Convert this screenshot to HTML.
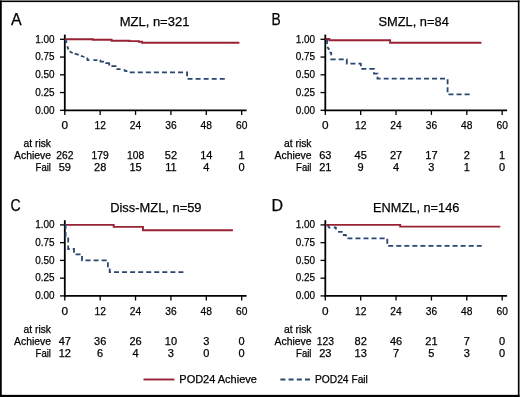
<!DOCTYPE html>
<html><head><meta charset="utf-8"><style>
html,body{margin:0;padding:0;background:#fff;overflow:hidden;}
svg{display:block;will-change:transform;}
text{font-family:"Liberation Sans", sans-serif;fill:#000;stroke:#000;stroke-width:0.25px;}
</style></head><body>
<svg width="520" height="397" viewBox="0 0 520 397">
<rect x="0" y="0" width="520" height="397" fill="#fff"/>
<line x1="64.80" y1="34.60" x2="64.80" y2="111.20" stroke="#000" stroke-width="1.8"/>
<line x1="63.90" y1="110.30" x2="246.60" y2="110.30" stroke="#000" stroke-width="1.8"/>
<line x1="60.00" y1="39.30" x2="64.80" y2="39.30" stroke="#000" stroke-width="1.3"/>
<text x="54.60" y="42.60" font-size="11.8" text-anchor="end" textLength="19.4" lengthAdjust="spacingAndGlyphs">1.00</text>
<line x1="60.00" y1="57.05" x2="64.80" y2="57.05" stroke="#000" stroke-width="1.3"/>
<text x="54.60" y="60.35" font-size="11.8" text-anchor="end" textLength="19.4" lengthAdjust="spacingAndGlyphs">0.75</text>
<line x1="60.00" y1="74.80" x2="64.80" y2="74.80" stroke="#000" stroke-width="1.3"/>
<text x="54.60" y="78.10" font-size="11.8" text-anchor="end" textLength="19.4" lengthAdjust="spacingAndGlyphs">0.50</text>
<line x1="60.00" y1="92.55" x2="64.80" y2="92.55" stroke="#000" stroke-width="1.3"/>
<text x="54.60" y="95.85" font-size="11.8" text-anchor="end" textLength="19.4" lengthAdjust="spacingAndGlyphs">0.25</text>
<line x1="60.00" y1="110.30" x2="64.80" y2="110.30" stroke="#000" stroke-width="1.3"/>
<text x="54.60" y="113.60" font-size="11.8" text-anchor="end" textLength="19.4" lengthAdjust="spacingAndGlyphs">0.00</text>
<line x1="64.80" y1="110.30" x2="64.80" y2="114.90" stroke="#000" stroke-width="1.3"/>
<text x="64.80" y="129.00" font-size="11.8" text-anchor="middle">0</text>
<line x1="100.18" y1="110.30" x2="100.18" y2="114.90" stroke="#000" stroke-width="1.3"/>
<text x="100.18" y="129.00" font-size="11.8" text-anchor="middle" textLength="11.4" lengthAdjust="spacingAndGlyphs">12</text>
<line x1="135.55" y1="110.30" x2="135.55" y2="114.90" stroke="#000" stroke-width="1.3"/>
<text x="135.55" y="129.00" font-size="11.8" text-anchor="middle" textLength="11.4" lengthAdjust="spacingAndGlyphs">24</text>
<line x1="170.93" y1="110.30" x2="170.93" y2="114.90" stroke="#000" stroke-width="1.3"/>
<text x="170.93" y="129.00" font-size="11.8" text-anchor="middle" textLength="11.4" lengthAdjust="spacingAndGlyphs">36</text>
<line x1="206.30" y1="110.30" x2="206.30" y2="114.90" stroke="#000" stroke-width="1.3"/>
<text x="206.30" y="129.00" font-size="11.8" text-anchor="middle" textLength="11.4" lengthAdjust="spacingAndGlyphs">48</text>
<line x1="241.68" y1="110.30" x2="241.68" y2="114.90" stroke="#000" stroke-width="1.3"/>
<text x="241.68" y="129.00" font-size="11.8" text-anchor="middle" textLength="11.4" lengthAdjust="spacingAndGlyphs">60</text>
<text x="51.00" y="146.50" font-size="11" text-anchor="end" textLength="27.5" lengthAdjust="spacingAndGlyphs">at risk</text>
<text x="51.00" y="159.10" font-size="11" text-anchor="end" textLength="37" lengthAdjust="spacingAndGlyphs">Achieve</text>
<text x="51.00" y="170.50" font-size="11" text-anchor="end" textLength="15.4" lengthAdjust="spacingAndGlyphs">Fail</text>
<text x="64.80" y="159.10" font-size="11" text-anchor="middle" textLength="17.2" lengthAdjust="spacingAndGlyphs">262</text>
<text x="64.80" y="170.50" font-size="11" text-anchor="middle">59</text>
<text x="100.18" y="159.10" font-size="11" text-anchor="middle" textLength="17.2" lengthAdjust="spacingAndGlyphs">179</text>
<text x="100.18" y="170.50" font-size="11" text-anchor="middle">28</text>
<text x="135.55" y="159.10" font-size="11" text-anchor="middle" textLength="17.2" lengthAdjust="spacingAndGlyphs">108</text>
<text x="135.55" y="170.50" font-size="11" text-anchor="middle">15</text>
<text x="170.93" y="159.10" font-size="11" text-anchor="middle">52</text>
<text x="170.93" y="170.50" font-size="11" text-anchor="middle">11</text>
<text x="206.30" y="159.10" font-size="11" text-anchor="middle">14</text>
<text x="206.30" y="170.50" font-size="11" text-anchor="middle">4</text>
<text x="241.68" y="159.10" font-size="11" text-anchor="middle">1</text>
<text x="241.68" y="170.50" font-size="11" text-anchor="middle">0</text>
<text x="11.00" y="25.40" font-size="16">A</text>
<text x="119.70" y="26.20" font-size="13.7" textLength="69.7" lengthAdjust="spacingAndGlyphs">MZL, n=321</text>
<path d="M64.80,39.20 L92.80,39.20 L92.80,39.80 L111.60,39.80 L111.60,40.80 L129.20,40.70 L129.20,41.10 L138.80,41.10 L138.80,41.80 L142.10,41.80 L142.10,42.70 L239.40,42.70" fill="none" stroke="#982233" stroke-width="1.9"/>
<path d="M127.20,72.30 L187.10,72.30 L187.10,78.90 L225.20,78.90" fill="none" stroke="#284670" stroke-width="1.8" stroke-dasharray="5.0 3.05" stroke-dashoffset="5.50"/>
<path d="M65.00,39.40 L65.90,41.00 L66.90,42.80 M67.20,46.30 L67.80,47.50 L68.30,49.40 M69.70,51.20 L71.00,52.20 L72.70,53.00 M74.70,53.70 L76.50,54.20 L78.70,54.90 M80.90,55.90 L83.00,56.50 L84.40,57.00 M86.60,58.10 L87.50,58.60 L87.50,60.20 L89.40,60.20 M93.40,60.10 L97.40,60.10 M100.10,60.30 L100.40,60.30 L100.40,61.60 L104.10,61.60 M106.10,62.40 L106.10,63.20 L109.20,63.20 L109.20,65.50 M111.40,66.10 L116.50,66.10 M117.20,68.40 L117.20,69.20 L120.60,69.20 M124.60,69.20 L124.60,70.80 L126.50,70.80 L126.50,72.00" fill="none" stroke="#284670" stroke-width="1.8" stroke-linejoin="round"/>
<line x1="325.30" y1="34.60" x2="325.30" y2="111.20" stroke="#000" stroke-width="1.8"/>
<line x1="324.40" y1="110.30" x2="507.10" y2="110.30" stroke="#000" stroke-width="1.8"/>
<line x1="320.50" y1="39.30" x2="325.30" y2="39.30" stroke="#000" stroke-width="1.3"/>
<text x="315.10" y="42.60" font-size="11.8" text-anchor="end" textLength="19.4" lengthAdjust="spacingAndGlyphs">1.00</text>
<line x1="320.50" y1="57.05" x2="325.30" y2="57.05" stroke="#000" stroke-width="1.3"/>
<text x="315.10" y="60.35" font-size="11.8" text-anchor="end" textLength="19.4" lengthAdjust="spacingAndGlyphs">0.75</text>
<line x1="320.50" y1="74.80" x2="325.30" y2="74.80" stroke="#000" stroke-width="1.3"/>
<text x="315.10" y="78.10" font-size="11.8" text-anchor="end" textLength="19.4" lengthAdjust="spacingAndGlyphs">0.50</text>
<line x1="320.50" y1="92.55" x2="325.30" y2="92.55" stroke="#000" stroke-width="1.3"/>
<text x="315.10" y="95.85" font-size="11.8" text-anchor="end" textLength="19.4" lengthAdjust="spacingAndGlyphs">0.25</text>
<line x1="320.50" y1="110.30" x2="325.30" y2="110.30" stroke="#000" stroke-width="1.3"/>
<text x="315.10" y="113.60" font-size="11.8" text-anchor="end" textLength="19.4" lengthAdjust="spacingAndGlyphs">0.00</text>
<line x1="325.30" y1="110.30" x2="325.30" y2="114.90" stroke="#000" stroke-width="1.3"/>
<text x="325.30" y="129.00" font-size="11.8" text-anchor="middle">0</text>
<line x1="360.68" y1="110.30" x2="360.68" y2="114.90" stroke="#000" stroke-width="1.3"/>
<text x="360.68" y="129.00" font-size="11.8" text-anchor="middle" textLength="11.4" lengthAdjust="spacingAndGlyphs">12</text>
<line x1="396.05" y1="110.30" x2="396.05" y2="114.90" stroke="#000" stroke-width="1.3"/>
<text x="396.05" y="129.00" font-size="11.8" text-anchor="middle" textLength="11.4" lengthAdjust="spacingAndGlyphs">24</text>
<line x1="431.43" y1="110.30" x2="431.43" y2="114.90" stroke="#000" stroke-width="1.3"/>
<text x="431.43" y="129.00" font-size="11.8" text-anchor="middle" textLength="11.4" lengthAdjust="spacingAndGlyphs">36</text>
<line x1="466.80" y1="110.30" x2="466.80" y2="114.90" stroke="#000" stroke-width="1.3"/>
<text x="466.80" y="129.00" font-size="11.8" text-anchor="middle" textLength="11.4" lengthAdjust="spacingAndGlyphs">48</text>
<line x1="502.18" y1="110.30" x2="502.18" y2="114.90" stroke="#000" stroke-width="1.3"/>
<text x="502.18" y="129.00" font-size="11.8" text-anchor="middle" textLength="11.4" lengthAdjust="spacingAndGlyphs">60</text>
<text x="311.50" y="146.50" font-size="11" text-anchor="end" textLength="27.5" lengthAdjust="spacingAndGlyphs">at risk</text>
<text x="311.50" y="159.10" font-size="11" text-anchor="end" textLength="37" lengthAdjust="spacingAndGlyphs">Achieve</text>
<text x="311.50" y="170.50" font-size="11" text-anchor="end" textLength="15.4" lengthAdjust="spacingAndGlyphs">Fail</text>
<text x="325.30" y="159.10" font-size="11" text-anchor="middle">63</text>
<text x="325.30" y="170.50" font-size="11" text-anchor="middle">21</text>
<text x="360.68" y="159.10" font-size="11" text-anchor="middle">45</text>
<text x="360.68" y="170.50" font-size="11" text-anchor="middle">9</text>
<text x="396.05" y="159.10" font-size="11" text-anchor="middle">27</text>
<text x="396.05" y="170.50" font-size="11" text-anchor="middle">4</text>
<text x="431.43" y="159.10" font-size="11" text-anchor="middle">17</text>
<text x="431.43" y="170.50" font-size="11" text-anchor="middle">3</text>
<text x="466.80" y="159.10" font-size="11" text-anchor="middle">2</text>
<text x="466.80" y="170.50" font-size="11" text-anchor="middle">1</text>
<text x="502.18" y="159.10" font-size="11" text-anchor="middle">1</text>
<text x="502.18" y="170.50" font-size="11" text-anchor="middle">0</text>
<text x="271.50" y="25.40" font-size="16" textLength="9.2" lengthAdjust="spacingAndGlyphs">B</text>
<text x="378.50" y="26.20" font-size="13.7" textLength="70.3" lengthAdjust="spacingAndGlyphs">SMZL, n=84</text>
<path d="M325.40,39.00 L329.30,39.00 L329.30,40.20 L390.10,40.20 L390.10,42.70 L481.40,42.70" fill="none" stroke="#982233" stroke-width="1.9"/>
<path d="M331.20,58.30 L331.20,59.30 L346.80,59.30 L346.80,63.70 L360.80,63.70 L360.80,68.90 L374.00,68.90 L374.00,73.60 L377.50,73.60 L377.50,78.70 L447.60,78.70 L447.60,94.40 L469.80,94.40" fill="none" stroke="#284670" stroke-width="1.8" stroke-dasharray="5.0 3.05" stroke-dashoffset="7.60"/>
<path d="M325.90,39.50 L327.10,40.20 L327.00,44.10 M327.30,47.00 L329.30,49.60 M329.60,52.60 L331.20,52.60 L331.20,55.20" fill="none" stroke="#284670" stroke-width="1.8" stroke-linejoin="round"/>
<line x1="64.80" y1="220.20" x2="64.80" y2="296.80" stroke="#000" stroke-width="1.8"/>
<line x1="63.90" y1="295.90" x2="246.60" y2="295.90" stroke="#000" stroke-width="1.8"/>
<line x1="60.00" y1="224.90" x2="64.80" y2="224.90" stroke="#000" stroke-width="1.3"/>
<text x="54.60" y="228.20" font-size="11.8" text-anchor="end" textLength="19.4" lengthAdjust="spacingAndGlyphs">1.00</text>
<line x1="60.00" y1="242.65" x2="64.80" y2="242.65" stroke="#000" stroke-width="1.3"/>
<text x="54.60" y="245.95" font-size="11.8" text-anchor="end" textLength="19.4" lengthAdjust="spacingAndGlyphs">0.75</text>
<line x1="60.00" y1="260.40" x2="64.80" y2="260.40" stroke="#000" stroke-width="1.3"/>
<text x="54.60" y="263.70" font-size="11.8" text-anchor="end" textLength="19.4" lengthAdjust="spacingAndGlyphs">0.50</text>
<line x1="60.00" y1="278.15" x2="64.80" y2="278.15" stroke="#000" stroke-width="1.3"/>
<text x="54.60" y="281.45" font-size="11.8" text-anchor="end" textLength="19.4" lengthAdjust="spacingAndGlyphs">0.25</text>
<line x1="60.00" y1="295.90" x2="64.80" y2="295.90" stroke="#000" stroke-width="1.3"/>
<text x="54.60" y="299.20" font-size="11.8" text-anchor="end" textLength="19.4" lengthAdjust="spacingAndGlyphs">0.00</text>
<line x1="64.80" y1="295.90" x2="64.80" y2="300.50" stroke="#000" stroke-width="1.3"/>
<text x="64.80" y="315.00" font-size="11.8" text-anchor="middle">0</text>
<line x1="100.18" y1="295.90" x2="100.18" y2="300.50" stroke="#000" stroke-width="1.3"/>
<text x="100.18" y="315.00" font-size="11.8" text-anchor="middle" textLength="11.4" lengthAdjust="spacingAndGlyphs">12</text>
<line x1="135.55" y1="295.90" x2="135.55" y2="300.50" stroke="#000" stroke-width="1.3"/>
<text x="135.55" y="315.00" font-size="11.8" text-anchor="middle" textLength="11.4" lengthAdjust="spacingAndGlyphs">24</text>
<line x1="170.93" y1="295.90" x2="170.93" y2="300.50" stroke="#000" stroke-width="1.3"/>
<text x="170.93" y="315.00" font-size="11.8" text-anchor="middle" textLength="11.4" lengthAdjust="spacingAndGlyphs">36</text>
<line x1="206.30" y1="295.90" x2="206.30" y2="300.50" stroke="#000" stroke-width="1.3"/>
<text x="206.30" y="315.00" font-size="11.8" text-anchor="middle" textLength="11.4" lengthAdjust="spacingAndGlyphs">48</text>
<line x1="241.68" y1="295.90" x2="241.68" y2="300.50" stroke="#000" stroke-width="1.3"/>
<text x="241.68" y="315.00" font-size="11.8" text-anchor="middle" textLength="11.4" lengthAdjust="spacingAndGlyphs">60</text>
<text x="51.00" y="332.50" font-size="11" text-anchor="end" textLength="27.5" lengthAdjust="spacingAndGlyphs">at risk</text>
<text x="51.00" y="345.10" font-size="11" text-anchor="end" textLength="37" lengthAdjust="spacingAndGlyphs">Achieve</text>
<text x="51.00" y="356.50" font-size="11" text-anchor="end" textLength="15.4" lengthAdjust="spacingAndGlyphs">Fail</text>
<text x="64.80" y="345.10" font-size="11" text-anchor="middle">47</text>
<text x="64.80" y="356.50" font-size="11" text-anchor="middle">12</text>
<text x="100.18" y="345.10" font-size="11" text-anchor="middle">36</text>
<text x="100.18" y="356.50" font-size="11" text-anchor="middle">6</text>
<text x="135.55" y="345.10" font-size="11" text-anchor="middle">26</text>
<text x="135.55" y="356.50" font-size="11" text-anchor="middle">4</text>
<text x="170.93" y="345.10" font-size="11" text-anchor="middle">10</text>
<text x="170.93" y="356.50" font-size="11" text-anchor="middle">3</text>
<text x="206.30" y="345.10" font-size="11" text-anchor="middle">3</text>
<text x="206.30" y="356.50" font-size="11" text-anchor="middle">0</text>
<text x="241.68" y="345.10" font-size="11" text-anchor="middle">0</text>
<text x="241.68" y="356.50" font-size="11" text-anchor="middle">0</text>
<text x="10.40" y="211.40" font-size="16" textLength="10.2" lengthAdjust="spacingAndGlyphs">C</text>
<text x="110.20" y="212.20" font-size="13.7" textLength="91.3" lengthAdjust="spacingAndGlyphs">Diss-MZL, n=59</text>
<path d="M64.80,224.90 L113.70,224.90 L113.70,226.90 L143.00,226.90 L143.00,230.20 L232.90,230.20" fill="none" stroke="#982233" stroke-width="1.9"/>
<path d="M64.80,224.80 L65.60,224.80 L65.60,236.50 L68.20,236.50 L68.20,249.00 L74.00,249.00 L74.00,254.30 L82.00,254.30 L82.00,260.40 L107.90,260.40 L107.90,267.60 L109.70,267.60 L109.70,272.20 L183.60,272.20" fill="none" stroke="#284670" stroke-width="1.8" stroke-dasharray="5.0 3.05" stroke-dashoffset="0.00"/>
<line x1="325.30" y1="220.20" x2="325.30" y2="296.80" stroke="#000" stroke-width="1.8"/>
<line x1="324.40" y1="295.90" x2="507.10" y2="295.90" stroke="#000" stroke-width="1.8"/>
<line x1="320.50" y1="224.90" x2="325.30" y2="224.90" stroke="#000" stroke-width="1.3"/>
<text x="315.10" y="228.20" font-size="11.8" text-anchor="end" textLength="19.4" lengthAdjust="spacingAndGlyphs">1.00</text>
<line x1="320.50" y1="242.65" x2="325.30" y2="242.65" stroke="#000" stroke-width="1.3"/>
<text x="315.10" y="245.95" font-size="11.8" text-anchor="end" textLength="19.4" lengthAdjust="spacingAndGlyphs">0.75</text>
<line x1="320.50" y1="260.40" x2="325.30" y2="260.40" stroke="#000" stroke-width="1.3"/>
<text x="315.10" y="263.70" font-size="11.8" text-anchor="end" textLength="19.4" lengthAdjust="spacingAndGlyphs">0.50</text>
<line x1="320.50" y1="278.15" x2="325.30" y2="278.15" stroke="#000" stroke-width="1.3"/>
<text x="315.10" y="281.45" font-size="11.8" text-anchor="end" textLength="19.4" lengthAdjust="spacingAndGlyphs">0.25</text>
<line x1="320.50" y1="295.90" x2="325.30" y2="295.90" stroke="#000" stroke-width="1.3"/>
<text x="315.10" y="299.20" font-size="11.8" text-anchor="end" textLength="19.4" lengthAdjust="spacingAndGlyphs">0.00</text>
<line x1="325.30" y1="295.90" x2="325.30" y2="300.50" stroke="#000" stroke-width="1.3"/>
<text x="325.30" y="315.00" font-size="11.8" text-anchor="middle">0</text>
<line x1="360.68" y1="295.90" x2="360.68" y2="300.50" stroke="#000" stroke-width="1.3"/>
<text x="360.68" y="315.00" font-size="11.8" text-anchor="middle" textLength="11.4" lengthAdjust="spacingAndGlyphs">12</text>
<line x1="396.05" y1="295.90" x2="396.05" y2="300.50" stroke="#000" stroke-width="1.3"/>
<text x="396.05" y="315.00" font-size="11.8" text-anchor="middle" textLength="11.4" lengthAdjust="spacingAndGlyphs">24</text>
<line x1="431.43" y1="295.90" x2="431.43" y2="300.50" stroke="#000" stroke-width="1.3"/>
<text x="431.43" y="315.00" font-size="11.8" text-anchor="middle" textLength="11.4" lengthAdjust="spacingAndGlyphs">36</text>
<line x1="466.80" y1="295.90" x2="466.80" y2="300.50" stroke="#000" stroke-width="1.3"/>
<text x="466.80" y="315.00" font-size="11.8" text-anchor="middle" textLength="11.4" lengthAdjust="spacingAndGlyphs">48</text>
<line x1="502.18" y1="295.90" x2="502.18" y2="300.50" stroke="#000" stroke-width="1.3"/>
<text x="502.18" y="315.00" font-size="11.8" text-anchor="middle" textLength="11.4" lengthAdjust="spacingAndGlyphs">60</text>
<text x="311.50" y="332.50" font-size="11" text-anchor="end" textLength="27.5" lengthAdjust="spacingAndGlyphs">at risk</text>
<text x="311.50" y="345.10" font-size="11" text-anchor="end" textLength="37" lengthAdjust="spacingAndGlyphs">Achieve</text>
<text x="311.50" y="356.50" font-size="11" text-anchor="end" textLength="15.4" lengthAdjust="spacingAndGlyphs">Fail</text>
<text x="325.30" y="345.10" font-size="11" text-anchor="middle" textLength="17.2" lengthAdjust="spacingAndGlyphs">123</text>
<text x="325.30" y="356.50" font-size="11" text-anchor="middle">23</text>
<text x="360.68" y="345.10" font-size="11" text-anchor="middle">82</text>
<text x="360.68" y="356.50" font-size="11" text-anchor="middle">13</text>
<text x="396.05" y="345.10" font-size="11" text-anchor="middle">46</text>
<text x="396.05" y="356.50" font-size="11" text-anchor="middle">7</text>
<text x="431.43" y="345.10" font-size="11" text-anchor="middle">21</text>
<text x="431.43" y="356.50" font-size="11" text-anchor="middle">5</text>
<text x="466.80" y="345.10" font-size="11" text-anchor="middle">7</text>
<text x="466.80" y="356.50" font-size="11" text-anchor="middle">3</text>
<text x="502.18" y="345.10" font-size="11" text-anchor="middle">0</text>
<text x="502.18" y="356.50" font-size="11" text-anchor="middle">0</text>
<text x="271.50" y="211.40" font-size="16">D</text>
<text x="373.10" y="212.20" font-size="13.7" textLength="86.3" lengthAdjust="spacingAndGlyphs">ENMZL, n=146</text>
<path d="M325.40,224.85 L400.20,224.85 L400.20,226.60 L500.30,226.60" fill="none" stroke="#982233" stroke-width="1.9"/>
<path d="M347.50,238.40 L387.30,238.40 L387.30,245.90 L482.60,245.90" fill="none" stroke="#284670" stroke-width="1.8" stroke-dasharray="5.0 3.05" stroke-dashoffset="0.10"/>
<path d="M327.30,225.60 L328.60,226.10 L328.80,227.40 L330.30,227.80 M333.80,227.50 L335.90,227.50 L335.90,229.60 M338.10,231.90 L342.60,231.90 M342.90,235.00 L345.90,235.00 L346.30,236.30" fill="none" stroke="#284670" stroke-width="1.8" stroke-linejoin="round"/>
<line x1="143.5" y1="379.5" x2="174.4" y2="379.5" stroke="#982233" stroke-width="1.9"/>
<text x="179.3" y="383.3" font-size="11" textLength="77.6" lengthAdjust="spacingAndGlyphs">POD24 Achieve</text>
<line x1="280.4" y1="379.5" x2="310" y2="379.5" stroke="#284670" stroke-width="1.8" stroke-dasharray="5 3.2"/>
<text x="315" y="383.3" font-size="11" textLength="52.9" lengthAdjust="spacingAndGlyphs">POD24 Fail</text>
<rect x="-0.1" y="0.5" width="1.85" height="397" fill="#000"/>
<rect x="0" y="0.5" width="519.5" height="1.6" fill="#000"/>
<rect x="517.85" y="0.5" width="1.65" height="397" fill="#000"/>
<rect x="0" y="394.85" width="519.5" height="2.2" fill="#000"/>
</svg>
</body></html>
